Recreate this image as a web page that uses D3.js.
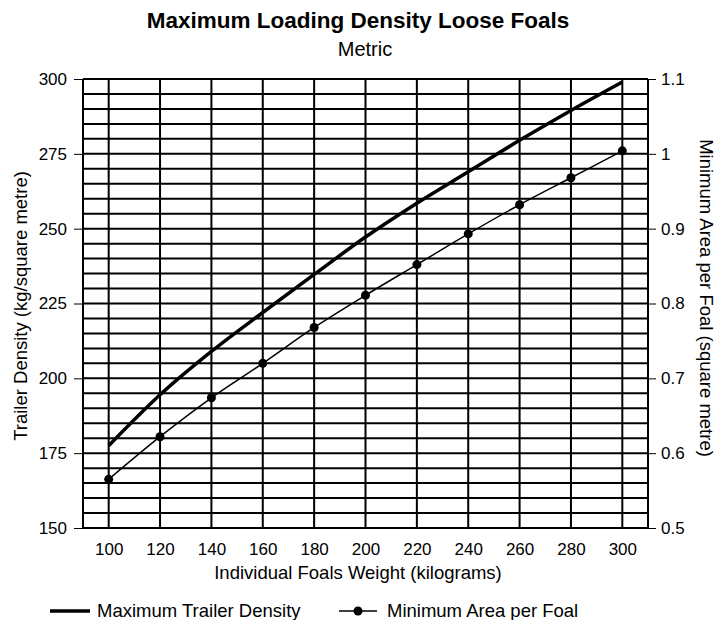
<!DOCTYPE html>
<html>
<head>
<meta charset="utf-8">
<script src="https://cdn.jsdelivr.net/npm/d3@7"></script>
<style>
  body { margin: 0; background: #fff; }
  svg { font-family: "Liberation Sans", Arial, sans-serif; }
</style>
</head>
<body>
<div id="chart"></div>
<script>
// foal weight (kg)
const weights = [100, 120, 140, 160, 180, 200, 220, 240, 260, 280, 300];
// left axis: kg / square metre
const maxTrailerDensity = [177.5, 194.5, 209, 222, 234.7, 247.2, 258.5, 269, 279.5, 289.5, 299];
// right axis: square metre
const minAreaPerFoal = [0.565, 0.622, 0.674, 0.72, 0.768, 0.811, 0.852, 0.893, 0.932, 0.968, 1.004];

const leftTicks = [150, 175, 200, 225, 250, 275, 300];
const rightTicks = [0.5, 0.6, 0.7, 0.8, 0.9, 1, 1.1];
const xTicks = [100, 120, 140, 160, 180, 200, 220, 240, 260, 280, 300];

const width = 717, height = 620;
const margin = { top: 79, right: 69, bottom: 92, left: 83 };
const innerW = width - margin.left - margin.right;
const innerH = height - margin.top - margin.bottom;

const svg = d3.select('#chart').append('svg')
  .attr('width', width)
  .attr('height', height);

const x = d3.scaleLinear().domain([90, 310]).range([0, innerW]);
const yLeft = d3.scaleLinear().domain([150, 300]).range([innerH, 0]);
const yRight = d3.scaleLinear().domain([0.5, 1.1]).range([innerH, 0]);

const g = svg.append('g')
  .attr('transform', `translate(${margin.left},${margin.top})`);

// horizontal grid every 5 units
g.append('g')
  .selectAll('line')
  .data(d3.range(150, 301, 5))
  .join('line')
  .attr('x1', 0).attr('x2', innerW)
  .attr('y1', d => yLeft(d)).attr('y2', d => yLeft(d))
  .attr('stroke', '#000').attr('stroke-width', 2);

// vertical grid at x ticks plus borders
g.append('g')
  .selectAll('line')
  .data([90, ...xTicks, 310])
  .join('line')
  .attr('x1', d => x(d)).attr('x2', d => x(d))
  .attr('y1', 0).attr('y2', innerH)
  .attr('stroke', '#000').attr('stroke-width', 2);

// axes
const leftAxis = g.append('g')
  .call(d3.axisLeft(yLeft).tickValues(leftTicks).tickSize(9).tickPadding(7));
const rightAxis = g.append('g')
  .attr('transform', `translate(${innerW},0)`)
  .call(d3.axisRight(yRight).tickValues(rightTicks).tickSize(8).tickPadding(5).tickFormat(d3.format('~g')));
const bottomAxis = g.append('g')
  .attr('transform', `translate(0,${innerH})`)
  .call(d3.axisBottom(x).tickValues(xTicks).tickSize(0).tickPadding(15));

[leftAxis, rightAxis, bottomAxis].forEach(a => {
  a.select('.domain').remove();
  a.selectAll('.tick line').attr('stroke', '#000').attr('stroke-width', 1);
  a.selectAll('text').attr('font-size', 17).attr('fill', '#000')
    .attr('font-family', '"Liberation Sans", Arial, sans-serif');
});

// series
const line = d3.line().curve(d3.curveMonotoneX);

g.append('path')
  .attr('d', line(weights.map((w, i) => [x(w), yLeft(maxTrailerDensity[i])])))
  .attr('fill', 'none')
  .attr('stroke', '#000')
  .attr('stroke-width', 3.5);

g.append('path')
  .attr('d', line(weights.map((w, i) => [x(w), yRight(minAreaPerFoal[i])])))
  .attr('fill', 'none')
  .attr('stroke', '#000')
  .attr('stroke-width', 1.5);

g.append('g')
  .selectAll('circle')
  .data(weights)
  .join('circle')
  .attr('cx', d => x(d))
  .attr('cy', (d, i) => yRight(minAreaPerFoal[i]))
  .attr('r', 4.5)
  .attr('fill', '#000');

// titles
svg.append('text')
  .attr('x', 358).attr('y', 28)
  .attr('text-anchor', 'middle')
  .attr('font-size', 22.5).attr('font-weight', 'bold')
  .text('Maximum Loading Density Loose Foals');

svg.append('text')
  .attr('x', 365).attr('y', 56)
  .attr('text-anchor', 'middle')
  .attr('font-size', 20)
  .text('Metric');

svg.append('text')
  .attr('x', 358).attr('y', 579)
  .attr('text-anchor', 'middle')
  .attr('font-size', 18.5)
  .text('Individual Foals Weight (kilograms)');

svg.append('text')
  .attr('transform', 'translate(27,306) rotate(-90)')
  .attr('text-anchor', 'middle')
  .attr('font-size', 18.5)
  .text('Trailer Density (kg/square metre)');

svg.append('text')
  .attr('transform', 'translate(700,298) rotate(90)')
  .attr('text-anchor', 'middle')
  .attr('font-size', 18.5)
  .text('Minimum Area per Foal (square metre)');

// legend
const legend = svg.append('g').attr('transform', 'translate(0,611)');
legend.append('line')
  .attr('x1', 50).attr('x2', 90).attr('y1', 0).attr('y2', 0)
  .attr('stroke', '#000').attr('stroke-width', 3.5);
legend.append('text')
  .attr('x', 97).attr('y', 6).attr('font-size', 18.5)
  .text('Maximum Trailer Density');
legend.append('line')
  .attr('x1', 339).attr('x2', 377).attr('y1', 0).attr('y2', 0)
  .attr('stroke', '#000').attr('stroke-width', 1.5);
legend.append('circle')
  .attr('cx', 358).attr('cy', 0).attr('r', 4.5).attr('fill', '#000');
legend.append('text')
  .attr('x', 387).attr('y', 6).attr('font-size', 18.5)
  .text('Minimum Area per Foal');
</script>
</body>
</html>
